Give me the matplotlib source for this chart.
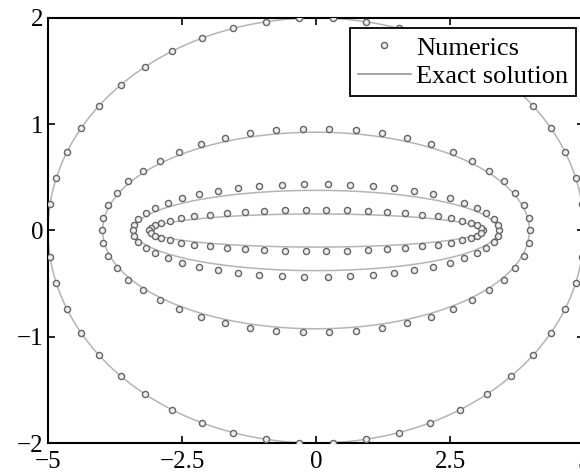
import numpy as np
import matplotlib
matplotlib.use("Agg")
import matplotlib.pyplot as plt
from matplotlib.lines import Line2D

plt.rcParams['font.family'] = ['Liberation Serif', 'DejaVu Serif']

# semi-axes of the four ellipses (outer to inner)
exact_a = [5.0, 3.98, 3.40, 3.10]
exact_b = [2.0, 0.925, 0.378, 0.156]
numeric_a = [5.0, 4.0, 3.42, 3.11]
numeric_b = [2.0, 0.96, 0.44, 0.195]
n_points = 50  # numerical points per ellipse

x_ticks = [-5, -2.5, 0, 2.5, 5]
x_ticklabels = ['\u22125', '\u22122.5', '0', '2.5', '5']
y_ticks = [-2, -1, 0, 1, 2]
y_ticklabels = ['\u22122', '\u22121', '0', '1', '2']

line_color = '#b4b4b4'
marker_edge = '#656565'
marker_fill = '#eeeeee'

fig = plt.figure(figsize=(5.8, 4.72), dpi=100)
ax = fig.add_axes([48 / 580, 29 / 472, 536 / 580, 425 / 472])

t = np.linspace(0, 2 * np.pi, 400)
for a, b in zip(exact_a, exact_b):
    ax.plot(a * np.cos(t), b * np.sin(t), color=line_color, lw=1.1, zorder=2)

th = 2 * np.pi * np.arange(n_points) / n_points
for a, b in zip(numeric_a, numeric_b):
    xs = a * np.cos(th)
    ys = b * np.sin(th)
    keep = np.abs(xs) < 4.99
    ax.plot(xs[keep], ys[keep], ls='none', marker='o', ms=4.4,
            mfc=marker_fill, mec=marker_edge, mew=1.0, zorder=3)

ax.set_xlim(-5, 5)
ax.set_ylim(-2, 2)
ax.set_xticks(x_ticks)
ax.set_xticklabels(x_ticklabels)
ax.set_yticks(y_ticks)
ax.set_yticklabels(y_ticklabels)
ax.tick_params(direction='in', length=5, width=1.2, top=True, right=True,
               labelsize=18, pad=3)
ax.tick_params(axis='x', pad=6)
for sp in ax.spines.values():
    sp.set_linewidth(1.5)

handles = [
    Line2D([], [], ls='none', marker='o', ms=4.4, mfc=marker_fill, mec=marker_edge, mew=1.0),
    Line2D([], [], color='#8c8c8c', lw=1.1),
]
leg = ax.legend(handles, ['Numerics', 'Exact solution'], loc='upper right',
                bbox_to_anchor=(0.985, 0.976), borderaxespad=0, fontsize=19,
                fancybox=False, framealpha=1, edgecolor='black',
                handlelength=2.0, handletextpad=0.2, borderpad=0.3,
                labelspacing=0.2)
leg.get_frame().set_linewidth(1.3)
leg.set_zorder(5)

fig.savefig('out.png', dpi=100)
